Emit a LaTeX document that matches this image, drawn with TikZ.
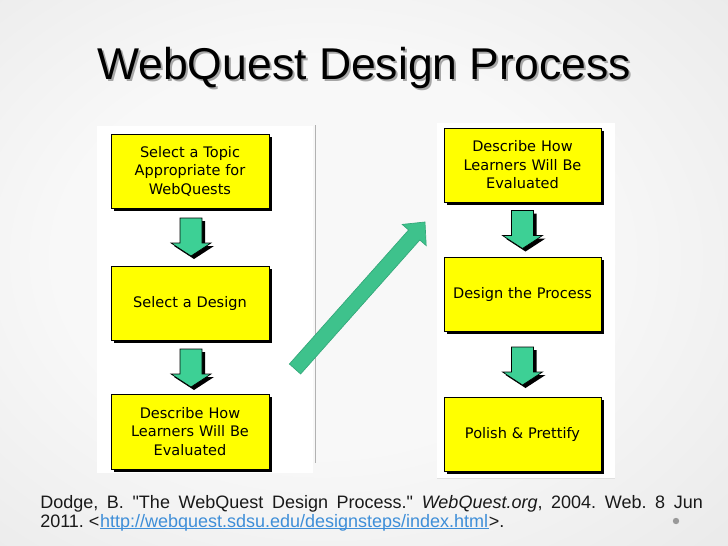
\documentclass[tikz,border=0pt]{standalone}
\usepackage{fontspec}
\setmainfont{Liberation Sans}
\newfontfamily\citefnt{Liberation Sans}
\newfontfamily\boxfont{DejaVu Sans}
\usetikzlibrary{shadows,calc}
\frenchspacing
\definecolor{bgA}{HTML}{F8F8F8}
\definecolor{bgB}{HTML}{D2D2D2}
\definecolor{boxyellow}{HTML}{FFFF00}
\definecolor{arrgreen}{HTML}{3DD095}
\definecolor{diaggreen}{HTML}{3EC28C}
\definecolor{diagedge}{HTML}{34A87A}
\definecolor{linkblue}{HTML}{3E8ED8}
\pgfdeclareradialshading{bgshade}{\pgfpoint{-4bp}{2bp}}{color(0bp)=(bgA); color(18bp)=(bgA); color(72bp)=(bgB)}
\tikzset{
  stepbox/.style={draw=black, line width=0.6pt, fill=boxyellow,
    minimum width=118.5pt, minimum height=55.5pt, text width=112pt,
    align=center, inner sep=0pt, text=black,
    font=\boxfont\fontsize{10.9}{13.9}\selectfont,
    general shadow={fill=black, shadow xshift=2.4pt, shadow yshift=-2.4pt}},
  downarr/.pic={
    \fill[black] (-8,-16) -- (14,-16) -- (14,9) -- (23,9) -- (3,22) -- (-17,9) -- (-8,9) -- cycle;
    \draw[black, line width=0.5pt, fill=arrgreen] (-11,-19) -- (11,-19) -- (11,6) -- (20,6) -- (0,19) -- (-20,6) -- (-11,6) -- cycle;
  },
  citefont/.style={font=\citefnt\fontsize{13.5}{15}\selectfont, inner sep=0pt, text=black!90}
}
\begin{document}
\begin{tikzpicture}[x=0.75pt,y=-0.75pt]
\useasboundingbox (0,0) rectangle (728,546);
\shade[shading=bgshade] (0,0) rectangle (728,546);
% title
\node[font=\fontsize{33.4}{40}\selectfont, text=gray!70, inner sep=0pt, anchor=base] at (366,81) {WebQuest Design Process};
\node[font=\fontsize{33.4}{40}\selectfont, text=black, inner sep=0pt, anchor=base] (title) at (364,79) {WebQuest Design Process};
% panels
\fill[white] (97,126) rectangle (313,473);
\draw[black!30, line width=0.6pt] (315,125) -- (315,463);
\fill[white] (437,123) rectangle (615,478);
\draw[black!12, line width=0.6pt] (437,478) -- (615,478);
% left boxes
\node[stepbox] (b1) at (190,171) {Select a Topic\\Appropriate for\\WebQuests};
\node[stepbox] (b2) at (190,303) {Select a Design};
\node[stepbox, minimum height=56.25pt] (b3) at (190,431.5) {Describe How\\Learners Will Be\\Evaluated};
% right boxes
\node[stepbox, minimum width=117.75pt] (r1) at (522.5,165) {Describe How\\Learners Will Be\\Evaluated};
\node[stepbox, minimum width=117.75pt] (r2) at (522.5,294) {Design the Process};
\node[stepbox, minimum width=117.75pt] (r3) at (522.5,434) {Polish \& Prettify};
% block arrows between boxes
\path ($(b1.south)!0.5!(b2.north)$) ++(1,0) pic {downarr};
\path ($(b2.south)!0.5!(b3.north)$) ++(1,1) pic {downarr};
\path ($(r1.south)!0.5!(r2.north)$) ++(0,0) pic {downarr};
\path ($(r2.south)!0.5!(r3.north)$) ++(0,2) pic {downarr};
% diagonal arrow
\draw[diagedge, line width=0.5pt, fill=diaggreen, line join=miter]
  (289.4,364) -- (408.6,230) -- (402.2,224.4) -- (425,222) -- (426.2,245.6) -- (419.8,240) -- (300.6,374) -- cycle;
% citation
\node[citefont, anchor=base west] (cite1) at (40,508) {\makebox[497pt][s]{Dodge, B. "The WebQuest Design Process." \textit{WebQuest.org}, 2004. Web. 8 Jun}};
\node[citefont, anchor=base west] (cite2) at (40,527) {2011. <};
\node[citefont, anchor=base west, text=linkblue] (url) at (cite2.base east) {http://webquest.sdsu.edu/designsteps/index.html};
\node[citefont, anchor=base west] (cite3) at (url.base east) {>.};
\draw[linkblue, line width=0.6pt] ([yshift=-1.4pt]url.base west) -- ([yshift=-1.4pt]url.base east);
\fill[black!40] (676,521) circle (2.4pt);
\end{tikzpicture}
\end{document}
